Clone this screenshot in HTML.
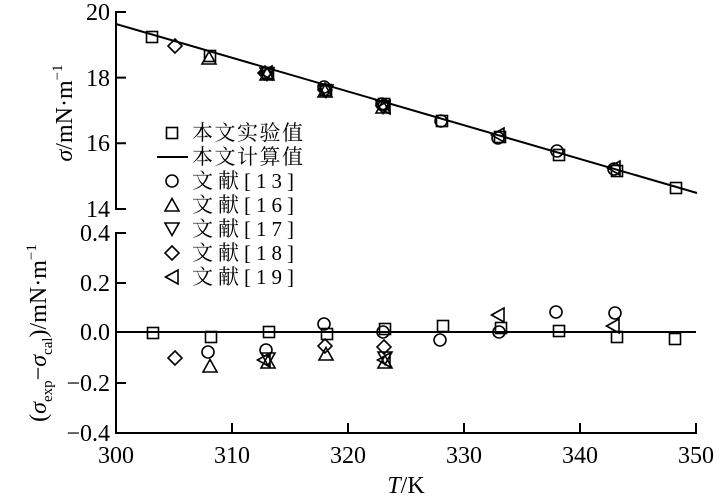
<!DOCTYPE html>
<html><head><meta charset="utf-8"><style>body{margin:0;background:#fff}svg{display:block}</style></head><body>
<svg width="724" height="500" viewBox="0 0 724 500" xmlns="http://www.w3.org/2000/svg" font-family="'Liberation Serif','Noto Serif CJK SC',serif">
<defs>
<g id="sq"><rect x="-5.5" y="-5.5" width="11" height="11" fill="none" stroke="#000" stroke-width="1.6"/></g>
<g id="ci"><circle r="6" fill="none" stroke="#000" stroke-width="1.6"/></g>
<g id="tu"><path d="M0,-6.5 L7,6 L-7,6 Z" fill="none" stroke="#000" stroke-width="1.6"/></g>
<g id="td"><path d="M0,6.5 L7,-6 L-7,-6 Z" fill="none" stroke="#000" stroke-width="1.6"/></g>
<g id="di"><path d="M0,-7 L7,0 L0,7 L-7,0 Z" fill="none" stroke="#000" stroke-width="1.6"/></g>
<g id="tl"><path d="M-6.5,0 L6,-7 L6,7 Z" fill="none" stroke="#000" stroke-width="1.6"/></g>
</defs>
<g stroke="#000" stroke-width="2" fill="none">
<path d="M126,12 H116 V209 H126"/>
<path d="M116,77.6 H126 M116,143.3 H126"/>
<path d="M126,233 H116 V433 H696 V423"/>
<path d="M116,283 H126 M116,383 H126"/>
<path d="M232,433 V423 M348,433 V423 M464,433 V423 M580,433 V423"/>
<path d="M116,332 H696"/>
<path d="M116,24 L697,193"/>
<path d="M157,157 H188"/>
</g>
<g font-size="24" fill="#000" text-anchor="end">
<text x="110" y="20">20</text><text x="110" y="86">18</text><text x="110" y="151">16</text><text x="110" y="217">14</text>
<text x="110" y="241">0.4</text><text x="110" y="291">0.2</text><text x="110" y="340">0.0</text><text x="110" y="391">−0.2</text><text x="110" y="441">−0.4</text>
</g>
<g font-size="24" fill="#000" text-anchor="middle">
<text x="116" y="463">300</text><text x="232" y="463">310</text><text x="348" y="463">320</text><text x="464" y="463">330</text><text x="580" y="463">340</text><text x="696" y="463">350</text>
<text x="406" y="493"><tspan font-style="italic">T</tspan>/K</text>
</g>
<text transform="translate(72,113) rotate(-90)" font-size="24" text-anchor="middle"><tspan font-style="italic">σ</tspan>/mN·m<tspan font-size="15" dy="-10">−1</tspan></text>
<text transform="translate(46,333) rotate(-90)" font-size="24" text-anchor="middle">(<tspan font-style="italic">σ</tspan><tspan font-size="15" dy="6">exp</tspan><tspan dy="-6">−</tspan><tspan font-style="italic">σ</tspan><tspan font-size="15" dy="6">cal</tspan><tspan dy="-6">)/mN·m</tspan><tspan font-size="15" dy="-10">−1</tspan></text>
<g font-size="21" fill="#000">
<use href="#sq" x="172" y="133"/><text x="192" y="140" letter-spacing="1.5">本文实验值</text>
<text x="192" y="164" letter-spacing="1.5">本文计算值</text>
<use href="#ci" x="172" y="181"/><text x="192" y="188" letter-spacing="5">文献[13]</text>
<use href="#tu" x="172" y="205"/><text x="192" y="212" letter-spacing="5">文献[16]</text>
<use href="#td" x="172" y="229"/><text x="192" y="236" letter-spacing="5">文献[17]</text>
<use href="#di" x="172" y="253"/><text x="192" y="260" letter-spacing="5">文献[18]</text>
<use href="#tl" x="172" y="277"/><text x="192" y="284" letter-spacing="5">文献[19]</text>
</g>
<use href="#sq" x="152" y="37"/><use href="#sq" x="210" y="56"/><use href="#sq" x="268" y="73"/><use href="#sq" x="326" y="90"/><use href="#sq" x="384" y="104"/><use href="#sq" x="442" y="121"/><use href="#sq" x="500" y="137"/><use href="#sq" x="559" y="155"/><use href="#sq" x="617" y="171"/><use href="#sq" x="676" y="188"/>
<use href="#ci" x="324" y="87"/><use href="#ci" x="382" y="104"/><use href="#ci" x="441" y="121"/><use href="#ci" x="498" y="138"/><use href="#ci" x="557" y="151"/><use href="#ci" x="614" y="169"/>
<use href="#tu" x="209" y="58"/><use href="#tu" x="267" y="74"/><use href="#tu" x="325" y="91"/><use href="#tu" x="383" y="107"/>
<use href="#td" x="267" y="74"/><use href="#td" x="326" y="91"/><use href="#td" x="383" y="107"/>
<use href="#di" x="175" y="46"/><use href="#di" x="265" y="73"/><use href="#di" x="325" y="90"/><use href="#di" x="383" y="106"/>
<use href="#tl" x="266" y="73"/><use href="#tl" x="384" y="107"/><use href="#tl" x="498" y="135"/><use href="#tl" x="614" y="168"/>
<use href="#sq" x="153" y="333"/><use href="#sq" x="211" y="337"/><use href="#sq" x="269" y="332"/><use href="#sq" x="327" y="334"/><use href="#sq" x="385" y="329"/><use href="#sq" x="443" y="326"/><use href="#sq" x="501" y="328"/><use href="#sq" x="559" y="331"/><use href="#sq" x="617" y="337"/><use href="#sq" x="675" y="339"/>
<use href="#ci" x="208" y="352"/><use href="#ci" x="266" y="350"/><use href="#ci" x="324" y="324"/><use href="#ci" x="383" y="332"/><use href="#ci" x="440" y="340"/><use href="#ci" x="499" y="332"/><use href="#ci" x="556" y="312"/><use href="#ci" x="615" y="313"/>
<use href="#tu" x="210" y="366"/><use href="#tu" x="268" y="362"/><use href="#tu" x="326" y="354"/><use href="#tu" x="385" y="362"/>
<use href="#td" x="268" y="359"/><use href="#td" x="385" y="358"/>
<use href="#di" x="175" y="358"/><use href="#di" x="325" y="346"/><use href="#di" x="384" y="347"/>
<use href="#tl" x="264" y="360"/><use href="#tl" x="384" y="360"/><use href="#tl" x="498" y="315"/><use href="#tl" x="613" y="326"/>
</svg>
</body></html>
